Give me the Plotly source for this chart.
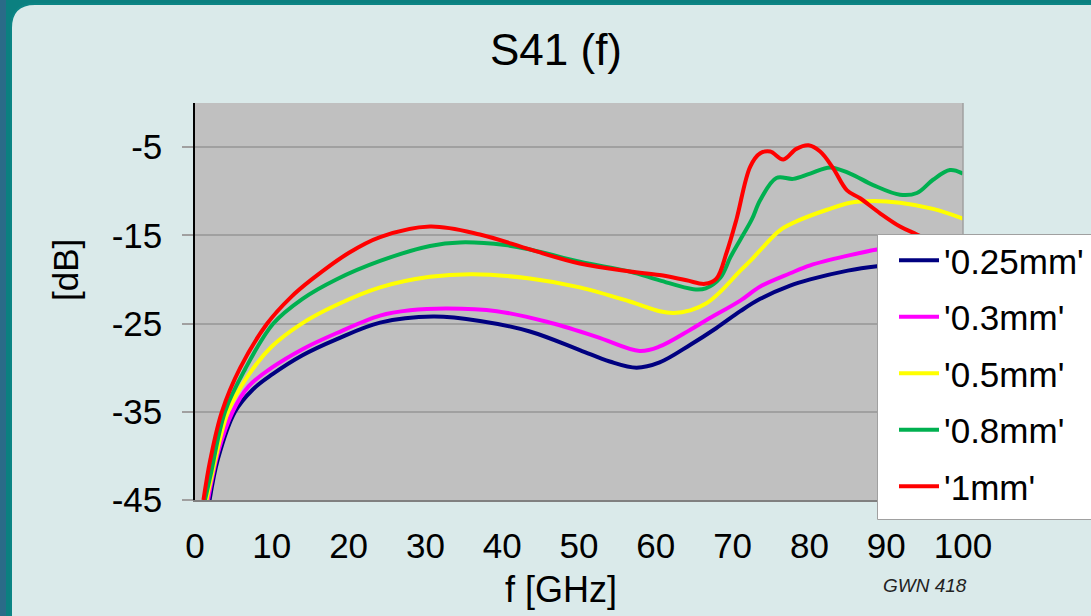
import plotly.graph_objects as go

# ---------------- data ----------------
f_025 = [1.9, 3.0, 5.2, 7.5, 10, 14, 18.4, 24.1, 31.0, 37.1, 43.6, 50.1, 54, 57.5, 60.5, 64.5, 67.9, 71, 73.6, 77.5, 80.1, 85, 88.8, 94, 100]
db_025 = [-45, -40.3, -35, -32.5, -30.8, -28.6, -26.8, -24.9, -24.2, -24.7, -25.9, -28.0, -29.3, -30.0, -29.4, -27.4, -25.5, -23.6, -22.2, -20.7, -20.0, -19.0, -18.5, -18.1, -17.9]

f_03 = [1.7, 3.0, 4.9, 7, 10, 14, 18.4, 24.1, 28, 32.8, 39.3, 45.8, 52.3, 57.9, 60.5, 64.5, 66.6, 71, 73.6, 77.5, 80.1, 85, 88.8, 94, 100]
db_03 = [-45, -39.6, -35, -32.1, -30.0, -27.9, -26.1, -24.1, -23.5, -23.3, -23.6, -24.8, -26.5, -28.1, -27.6, -25.7, -24.6, -22.4, -20.8, -19.3, -18.4, -17.3, -16.6, -16.0, -15.7]

f_05 = [1.5, 2.0, 4.3, 7, 10, 13.9, 18.4, 24.1, 30.6, 36.2, 43.6, 50.1, 56.6, 60.5, 62.3, 64.5, 66.6, 68.4, 71, 72.3, 74, 76.2, 78.9, 82.3, 85.3, 88.3, 91.8, 96.1, 100]
db_05 = [-45, -43.0, -35, -30.8, -27.6, -25.0, -22.9, -20.9, -19.7, -19.4, -19.9, -20.9, -22.5, -23.6, -23.8, -23.5, -22.7, -21.4, -19.0, -17.9, -16.3, -14.4, -13.2, -12.1, -11.3, -11.1, -11.3, -12.0, -13.1]

f_08 = [1.3, 2.0, 3.9, 6.5, 10.2, 14, 18.4, 24.1, 30.6, 34.5, 40.4, 43.6, 50.1, 56.6, 60.5, 64.9, 66.5, 68.4, 69.7, 71, 72.5, 73.6, 75.7, 77.9, 80.1, 82.7, 85.3, 88.3, 91.8, 94.0, 96.1, 98.3, 100]
db_08 = [-45, -42.3, -35, -30.2, -25.0, -22.2, -20.0, -17.9, -16.2, -15.8, -16.1, -16.6, -18.0, -19.1, -20.1, -21.1, -21.0, -19.8, -17.5, -15.5, -13.2, -11.0, -8.5, -8.6, -8.0, -7.3, -8.0, -9.3, -10.4, -10.2, -8.7, -7.6, -8.0]

f_1 = [1.1, 2.0, 3.5, 5.9, 9.4, 12.5, 15.2, 20, 24.1, 30.6, 37.1, 43.6, 50.1, 56.6, 60.5, 64, 66.4, 67.9, 69.2, 70.5, 72.3, 73.6, 74.9, 76.6, 78.3, 79.9, 81.4, 83.1, 84.9, 86.6, 89.2, 91.8, 94.0, 97, 100]
db_1 = [-45, -40.4, -35, -30.0, -25.0, -22.0, -20.0, -17.0, -15.2, -14.0, -14.9, -16.6, -18.2, -19.1, -19.5, -20.1, -20.5, -19.9, -17.0, -13.2, -7.2, -5.7, -5.5, -6.4, -5.2, -4.8, -5.5, -7.4, -9.9, -10.8, -12.5, -14.0, -14.9, -16.2, -17.5]

series_names = ["'0.25mm'", "'0.3mm'", "'0.5mm'", "'0.8mm'", "'1mm'"]
series_x = [f_025, f_03, f_05, f_08, f_1]
series_y = [db_025, db_03, db_05, db_08, db_1]
series_colors = ["#000080", "#ff00ff", "#ffff00", "#00b050", "#ff0000"]

x_ticks = [0, 10, 20, 30, 40, 50, 60, 70, 80, 90, 100]
y_ticks = [-45, -35, -25, -15, -5]
y_ticktext = [str(v) for v in y_ticks]

# ---------------- layout geometry ----------------
W, H = 1091, 616
ML, MR, MT, MB = 195, 128, 103, 116
PW, PH = W - ML - MR, H - MT - MB


def xp(px):
    return (px - ML) / PW


def yp(py):
    return (H - MB - py) / PH


FONT = "Arial, 'Liberation Sans', sans-serif"

fig = go.Figure()
for name, xs, ys, col in zip(series_names, series_x, series_y, series_colors):
    fig.add_trace(go.Scatter(
        x=xs, y=ys, name=name, mode="lines", legendgroup=name,
        line=dict(color=col, width=4, shape="spline", smoothing=1.0),
    ))

# background panel with rounded top-left corner
r = 24
panel_path = (
    f"M {xp(11)},{yp(H + 20)} L {xp(11)},{yp(4 + r)} "
    f"Q {xp(11)},{yp(4)} {xp(11 + r)},{yp(4)} "
    f"L {xp(W + 20)},{yp(4)} L {xp(W + 20)},{yp(H + 20)} Z"
)
shapes = [
    dict(type="rect", xref="paper", yref="paper", x0=xp(-5), x1=xp(6), y0=yp(-5), y1=yp(H + 5),
         fillcolor="#2a6b88", line=dict(width=0), layer="below"),
    dict(type="path", xref="paper", yref="paper", path=panel_path,
         fillcolor="#daeaea", line=dict(color="#0c8585", width=2), layer="below"),
    dict(type="rect", xref="paper", yref="paper", x0=0, x1=1, y0=0, y1=1,
         fillcolor="#c0c0c0", line=dict(width=0), layer="below"),
    dict(type="line", xref="paper", yref="paper", x0=1, x1=1, y0=0, y1=1,
         line=dict(color="#a0a0a0", width=1.5), layer="above"),
    # legend frame (runs off the right edge of the picture, as in the original)
    dict(type="rect", xref="paper", yref="paper", x0=xp(877.5), x1=xp(W + 20), y0=yp(519.5), y1=yp(234.5),
         fillcolor="#ffffff", line=dict(color="#a0a0a0", width=1), layer="above"),
]

fig.update_layout(
    width=W, height=H,
    margin=dict(l=ML, r=MR, t=MT, b=MB, autoexpand=False),
    paper_bgcolor="#0b8080",
    plot_bgcolor="rgba(0,0,0,0)",
    font=dict(family=FONT, color="#000000"),
    title=dict(text="S41 (f)", font=dict(size=44, family=FONT, color="#000"),
               x=556 / W, xref="container", xanchor="center",
               y=1 - 50 / H, yref="container", yanchor="middle"),
    shapes=shapes,
    xaxis=dict(range=[0, 100], tickvals=x_ticks, ticks="", showgrid=False, zeroline=False,
               showline=True, linecolor="#808080", linewidth=2,
               tickfont=dict(size=35, family=FONT), ticklabelstandoff=14),
    xaxis2=dict(range=[0, 100], overlaying="x", side="top", anchor="y",
                tickvals=x_ticks[1:-1], ticks="inside", ticklen=12, tickwidth=2, tickcolor="#808080",
                showticklabels=False, showgrid=False, zeroline=False,
                showline=True, linecolor="#000000", linewidth=1.5),
    yaxis=dict(range=[-45, 0], tickvals=y_ticks, ticktext=y_ticktext, ticks="outside",
               ticklen=11, tickwidth=2,
               tickcolor="#a0a0a0", showgrid=True, gridcolor="#a0a0a0", gridwidth=2,
               zeroline=False, showline=True, linecolor="#000000", linewidth=1.5,
               tickfont=dict(size=35, family=FONT), ticklabelstandoff=13),
    legend=dict(x=xp(878), y=yp(231), xanchor="left", yanchor="top",
                bgcolor="rgba(255,255,255,0)", borderwidth=0,
                font=dict(size=35, family=FONT), tracegroupgap=8, itemwidth=40,
                indentation=16),
    showlegend=True,
    annotations=[
        dict(text="[dB]", x=xp(65), y=yp(270), xref="paper", yref="paper", textangle=-90,
             showarrow=False, font=dict(size=35, family=FONT, color="#000"),
             xanchor="center", yanchor="middle"),
        dict(text="f [GHz]", x=xp(561), y=yp(589), xref="paper", yref="paper",
             showarrow=False, font=dict(size=36, family=FONT, color="#000"),
             xanchor="center", yanchor="middle"),
        dict(text="<i>GWN 418</i>", x=xp(925), y=yp(585), xref="paper", yref="paper",
             showarrow=False, font=dict(size=19, family=FONT, color="#222222"),
             xanchor="center", yanchor="middle"),
    ],
)

fig.write_html("out.html")
